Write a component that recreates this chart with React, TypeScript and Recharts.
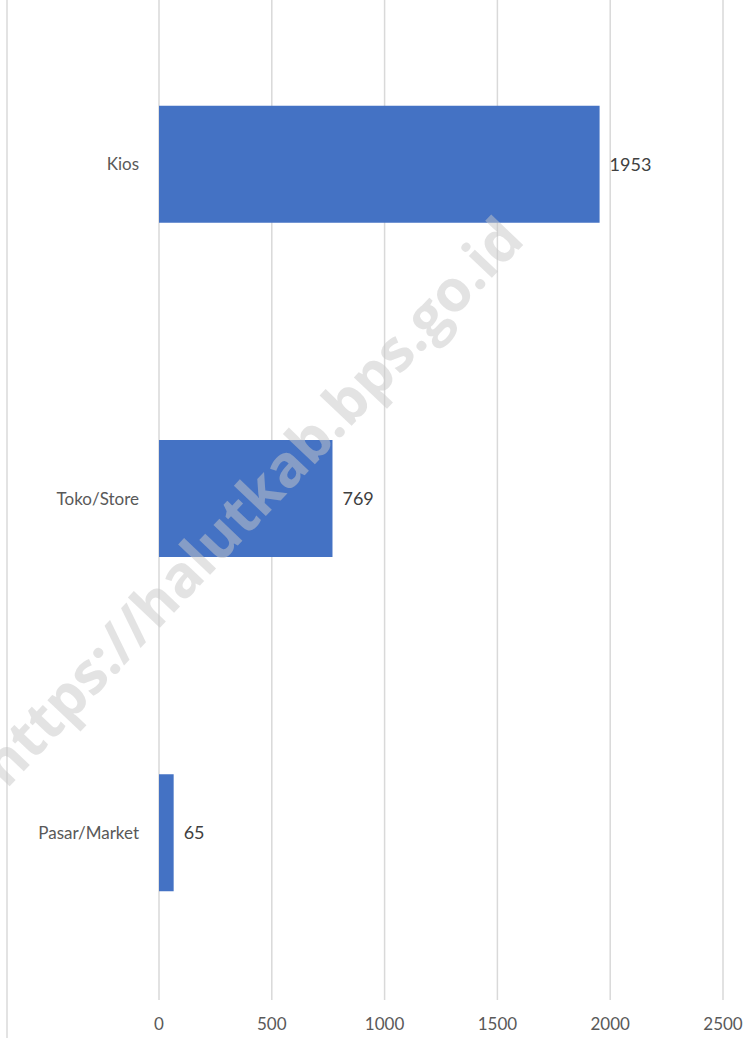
import { BarChart, Bar, XAxis, YAxis, CartesianGrid, LabelList } from 'recharts'

const categories = ['Kios', 'Toko/Store', 'Pasar/Market']
const counts = [1953, 769, 65]
const xTicks = [0, 500, 1000, 1500, 2000, 2500]

const data = categories.map((name, i) => ({ name, value: counts[i] }))

const font = 'Lato, "Open Sans", sans-serif'
const tickStyle = { fontSize: 17, fill: '#595959', fontFamily: font }

export default function App() {
  return (
    <div style={{ position: 'absolute', left: 0, top: 0, width: 743, height: 1038, background: '#fff', overflow: 'hidden' }}>
      <div style={{ position: 'absolute', left: 6, top: 0, width: 2, height: 1038, background: '#e3e3e3' }} />
      <BarChart
        layout="vertical"
        width={743}
        height={1038}
        data={data}
        margin={{ top: -3, right: 20, left: 8, bottom: 0 }}
        barCategoryGap="32.5%"
        style={{ position: 'absolute', left: 0, top: 0 }}
      >
        <CartesianGrid horizontal={false} stroke="#d9d9d9" strokeWidth={1.5} />
        <XAxis
          type="number"
          domain={[0, 2500]}
          ticks={xTicks}
          tick={tickStyle}
          tickLine={false}
          axisLine={false}
          tickSize={0}
          tickMargin={18}
          height={38}
        />
        <YAxis
          type="category"
          dataKey="name"
          width={151}
          tick={tickStyle}
          tickLine={false}
          axisLine={false}
          tickSize={0}
          tickMargin={20}
        />
        <Bar dataKey="value" fill="#4472c4" isAnimationActive={false}>
          <LabelList dataKey="value" position="right" offset={10} style={{ fontSize: 18, fill: '#404040', fontFamily: font }} />
        </Bar>
      </BarChart>
      <div
        style={{
          position: 'absolute',
          left: 250,
          top: 500,
          transform: 'translate(-50%, -50%) rotate(-46.5deg)',
          whiteSpace: 'nowrap',
          fontFamily: '"Open Sans", sans-serif',
          fontWeight: 700,
          fontSize: 58,
          color: 'rgba(200,200,200,0.5)',
          pointerEvents: 'none',
        }}
      >
        https://halutkab.bps.go.id
      </div>
    </div>
  )
}
